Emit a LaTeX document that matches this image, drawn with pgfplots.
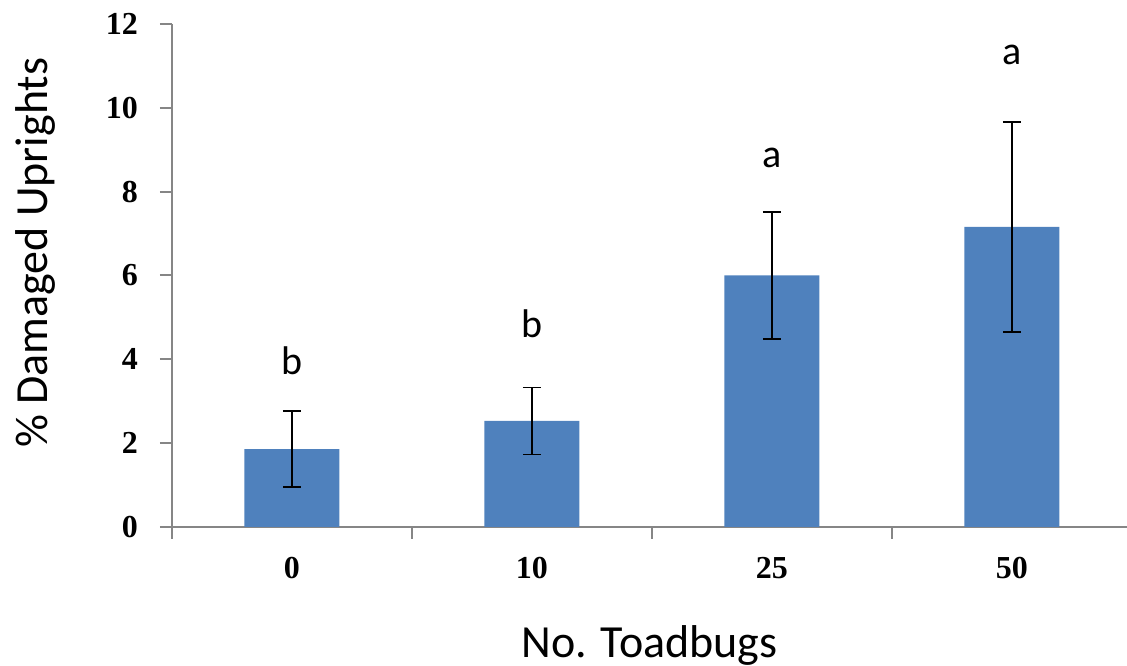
\documentclass[border=0pt]{standalone}
\usepackage{pgfplots}
\pgfplotsset{compat=1.18}
\usepackage{fontspec}
\setmainfont{Carlito}
\newfontfamily\tickfont{Liberation Serif}

\definecolor{barblue}{HTML}{4F81BD}
\definecolor{axgray}{HTML}{868686}

\begin{document}
\begin{tikzpicture}
\begin{axis}[
  name=ax,
  at={(0,0)}, anchor=south west,
  scale only axis,
  width=477.5pt, height=251.5pt,
  xmin=-0.5, xmax=3.48,
  ymin=0, ymax=12,
  ytick={0,2,...,12},
  xtick={0,1,2,3},
  xticklabels={0,10,25,50},
  minor xtick={-0.5,0.5,1.5,2.5},
  axis x line*=bottom,
  axis y line*=left,
  axis line style={axgray, line width=1pt, -},
  tick style={axgray, line width=1pt},
  tick align=outside,
  major tick length=6pt,
  minor tick length=6pt,
  x tick style={draw=none},
  minor x tick style={draw=axgray},
  /pgf/number format/assume math mode=true,
  ticklabel style={font=\tickfont\bfseries\fontsize{16}{19}\selectfont},
  yticklabel style={xshift=-7.5pt},
  xticklabel style={yshift=-5.5pt},
  xlabel={No. Toadbugs},
  ylabel={\% Damaged Uprights},
  label style={font=\fontsize{23}{27}\selectfont},
  xlabel style={at={(axis description cs:0.5,-0.2346)}, anchor=center},
  ylabel style={at={(axis description cs:-0.1425,0.545)}, anchor=center},
  clip=false,
]
\addplot[ybar, bar width=47.5pt, fill=barblue, draw=none,
  error bars/.cd, y dir=both, y explicit,
  error bar style={black, line width=0.9pt},
  error mark options={black, line width=0.9pt, mark size=4.5pt, rotate=90}]
  coordinates {
    (0,1.86) +- (0,0.90)
    (1,2.53) +- (0,0.80)
    (2,6.00) +- (0,1.52)
    (3,7.16) +- (0,2.51)
  };
\addplot[draw=none, mark=none, nodes near coords, point meta=explicit symbolic,
  every node near coord/.append style={anchor=base, inner sep=0pt, font=\fontsize{20}{24}\selectfont}]
  coordinates {
    (0,3.63) [b]
    (1,4.53) [b]
    (2,8.57) [a]
    (3,11.03) [a]
  };
\end{axis}
\pgfresetboundingbox
\path ([xshift=-86pt,yshift=-69.5pt]ax.south west) rectangle ([yshift=12pt]ax.north east);
\end{tikzpicture}
\end{document}
